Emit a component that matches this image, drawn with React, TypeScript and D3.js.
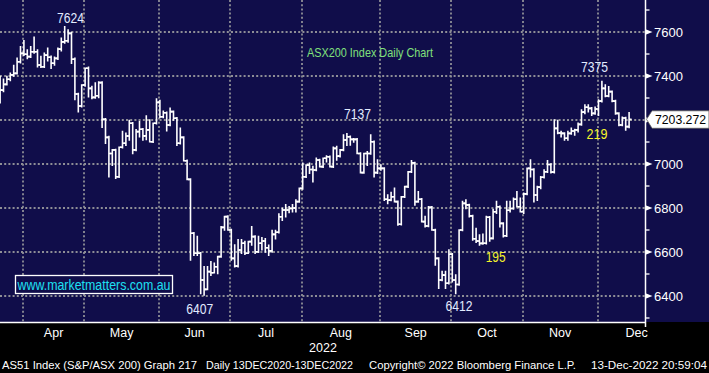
import React from 'react'
import * as d3 from 'd3'

// ASX200 daily OHLC, 22 Mar 2022 - 13 Dec 2022
const monthNames = ['Mar', 'Apr', 'May', 'Jun', 'Jul', 'Aug', 'Sep', 'Oct', 'Nov', 'Dec']
const monthDays = [8, 18, 22, 21, 21, 23, 21, 21, 22, 9]
const yTicks = [6400, 6600, 6800, 7000, 7200, 7400, 7600]
const yMinorTicks = [6300, 6500, 6700, 6900, 7100, 7300, 7500, 7700]

const opens = [
  7300, 7336, 7362, 7385, 7405, 7412, 7465, 7503,
  7499, 7488, 7510, 7510, 7450, 7442, 7495, 7485, 7458, 7480, 7522, 7555, 7560, 7594, 7476, 7318, 7264, 7359,
  7435, 7344, 7303, 7310, 7370, 7203, 7121, 7048, 7064, 6942, 7076, 7094, 7127, 7185, 7064, 7147, 7158, 7128, 7155, 7101, 7185, 7280,
  7215, 7233, 7177, 7238, 7208, 7094, 7121, 7015, 6930, 6685, 6594, 6594, 6473, 6430, 6511, 6506, 6533, 6579, 6712, 6761, 6700,
  6571, 6536, 6609, 6640, 6594, 6647, 6670, 6601, 6640, 6650, 6619, 6605, 6680, 6690, 6760, 6791, 6791, 6798, 6800, 6829, 6889,
  6942, 6995, 6975, 6973, 7018, 6988, 7026, 7033, 6988, 7071, 7036, 7064, 7109, 7124, 7112, 7112, 7048, 6961, 7048, 7048, 7101, 6961, 6980,
  6980, 6840, 6836, 6851, 6829, 6726, 6851, 6897, 6965, 7005, 6829, 6840, 6738, 6718, 6803, 6700, 6571, 6473, 6495, 6458, 6590,
  6473, 6452, 6700, 6821, 6814, 6764, 6660, 6650, 6639, 6640, 6758, 6662, 6783, 6806, 6730, 6674, 6790, 6798, 6840, 6806, 6783,
  6864, 6980, 6975, 6859, 6895, 6940, 6965, 6998, 6963, 7162, 7141, 7139, 7117, 7139, 7150, 7155, 7180, 7236, 7258, 7253, 7230, 7250,
  7286, 7344, 7309, 7329, 7286, 7230, 7177, 7209, 7170,
]
const highs = [
  7397, 7385, 7397, 7412, 7447, 7480, 7533, 7560,
  7518, 7533, 7576, 7518, 7488, 7503, 7526, 7490, 7485, 7526, 7571, 7624, 7609, 7598, 7480, 7320, 7359, 7435,
  7440, 7352, 7368, 7372, 7372, 7205, 7125, 7064, 7066, 7076, 7147, 7140, 7197, 7187, 7155, 7192, 7160, 7218, 7200, 7185, 7295, 7288,
  7240, 7235, 7253, 7240, 7210, 7162, 7123, 7017, 6932, 6687, 6670, 6596, 6533, 6533, 6556, 6549, 6579, 6715, 6761, 6763, 6702,
  6632, 6655, 6655, 6647, 6647, 6715, 6672, 6670, 6665, 6660, 6630, 6698, 6698, 6773, 6798, 6814, 6805, 6814, 6836, 6889, 7003,
  6995, 7003, 6988, 7026, 7020, 7026, 7036, 7035, 7076, 7079, 7064, 7132, 7137, 7126, 7115, 7114, 7050, 7048, 7056, 7132, 7103, 7018, 6995,
  6982, 6859, 6870, 6889, 6831, 6851, 6897, 6965, 7014, 7007, 6874, 6842, 6761, 6806, 6806, 6702, 6573, 6511, 6511, 6609, 6592,
  6495, 6700, 6829, 6836, 6816, 6766, 6707, 6677, 6680, 6761, 6760, 6793, 6829, 6808, 6732, 6829, 6829, 6844, 6874, 6844, 6867,
  6980, 7018, 6977, 6897, 6942, 6973, 7014, 7000, 7200, 7198, 7147, 7141, 7147, 7162, 7157, 7185, 7245, 7268, 7268, 7255, 7258, 7291,
  7375, 7359, 7351, 7331, 7288, 7232, 7212, 7211, 7233,
]
const lows = [
  7279, 7330, 7360, 7380, 7400, 7410, 7460, 7495,
  7480, 7485, 7505, 7442, 7440, 7440, 7470, 7435, 7450, 7476, 7515, 7550, 7555, 7458, 7294, 7238, 7260, 7355,
  7306, 7298, 7300, 7303, 7167, 7094, 6942, 6995, 6935, 6940, 7074, 7086, 7109, 7048, 7062, 7124, 7109, 7112, 7101, 7099, 7183, 7212,
  7212, 7151, 7175, 7200, 7086, 7092, 7015, 6930, 6564, 6586, 6586, 6412, 6405, 6430, 6495, 6506, 6503, 6577, 6700, 6700, 6564,
  6533, 6533, 6594, 6590, 6594, 6632, 6594, 6599, 6610, 6600, 6585, 6600, 6660, 6688, 6745, 6761, 6780, 6783, 6783, 6827, 6887,
  6940, 6958, 6920, 6971, 6988, 6986, 7010, 6988, 6986, 7018, 7033, 7062, 7085, 7087, 7100, 7048, 6961, 6959, 6995, 7046, 6942, 6958, 6973,
  6836, 6821, 6834, 6829, 6723, 6724, 6849, 6895, 6963, 6814, 6827, 6738, 6715, 6716, 6700, 6541, 6435, 6471, 6435, 6456, 6465,
  6412, 6450, 6698, 6798, 6761, 6655, 6645, 6632, 6637, 6638, 6650, 6660, 6776, 6715, 6670, 6672, 6783, 6796, 6806, 6783, 6776,
  6862, 6942, 6829, 6836, 6889, 6938, 6963, 6961, 6961, 7139, 7124, 7109, 7109, 7137, 7132, 7147, 7178, 7230, 7238, 7222, 7228, 7222,
  7283, 7307, 7307, 7284, 7228, 7175, 7175, 7155, 7166,
]
const closes = [
  7336, 7362, 7385, 7405, 7412, 7465, 7503, 7499,
  7488, 7510, 7510, 7450, 7442, 7495, 7485, 7458, 7480, 7522, 7555, 7560, 7594, 7476, 7318, 7264, 7359, 7435,
  7344, 7303, 7310, 7370, 7203, 7121, 7048, 7064, 6942, 7076, 7094, 7127, 7185, 7064, 7147, 7158, 7128, 7155, 7101, 7185, 7280, 7215,
  7233, 7177, 7238, 7208, 7094, 7121, 7015, 6930, 6685, 6594, 6594, 6473, 6430, 6511, 6506, 6533, 6579, 6712, 6761, 6700, 6571,
  6536, 6609, 6640, 6594, 6647, 6670, 6601, 6640, 6650, 6619, 6605, 6680, 6690, 6760, 6791, 6791, 6798, 6800, 6829, 6889, 6942,
  6995, 6975, 6973, 7018, 6988, 7026, 7033, 6988, 7071, 7036, 7064, 7109, 7124, 7112, 7112, 7048, 6961, 7048, 7048, 7101, 6961, 6980, 6980,
  6840, 6836, 6851, 6829, 6726, 6851, 6897, 6965, 7005, 6829, 6840, 6738, 6718, 6803, 6700, 6571, 6473, 6495, 6458, 6590, 6473,
  6452, 6700, 6821, 6814, 6764, 6660, 6650, 6639, 6640, 6758, 6662, 6783, 6806, 6730, 6674, 6790, 6798, 6840, 6806, 6783, 6864,
  6980, 6975, 6859, 6895, 6940, 6965, 6998, 6963, 7162, 7141, 7139, 7117, 7139, 7150, 7155, 7180, 7236, 7258, 7253, 7230, 7250, 7286,
  7344, 7309, 7329, 7286, 7230, 7177, 7209, 7170, 7203,
]

const lastValue = 7203.272
const lastPrice = '7203.272'

const BG = '#100d4a'
const GRID = '#8e8e96'
const FONT = '"Liberation Sans", Arial, sans-serif'

export default function App() {
  const W = 709
  const H = 373
  const axisX = 645.5
  const plotB = 322

  const x = d3.scaleLinear().domain([0, closes.length - 1]).range([0.1, 629.1])
  const y = d3.scaleLinear().domain([6281.8, 7745.5]).range([plotB, 0])
  const half = 1.7

  // first trading-day index of each month
  const starts = d3.cumsum([0, ...monthDays.slice(0, -1)])
  const gridXs = Array.from(starts).map(s => x(s) - 4.3)
  const monthCenters = gridXs.map((g, i) => (i < gridXs.length - 1 ? (g + gridXs[i + 1]) / 2 : g + 39))

  const tagY = y(lastValue)
  // the last-price tag hides any axis label it sits on
  const visibleTicks = yTicks.filter(t => Math.abs(y(t) - tagY) > 12)

  return (
    <svg width={W} height={H} style={{ display: 'block', position: 'absolute', left: 0, top: 0 }}>
      <rect x={0} y={0} width={W} height={H} fill="#000" />
      <rect x={0} y={0} width={W} height={plotB} fill={BG} />

      {/* grid */}
      <g stroke={GRID} strokeWidth={1.8} strokeDasharray="2 2.2">
        {yTicks.map(t => (
          <line key={t} x1={0} x2={axisX} y1={Math.round(y(t))} y2={Math.round(y(t))} />
        ))}
        {gridXs.slice(1).map((g, i) => (
          <line key={i} x1={Math.round(g)} x2={Math.round(g)} y1={0} y2={plotB} />
        ))}
      </g>

      {/* OHLC bars */}
      <g stroke="#fff" strokeWidth={1.6} fill="none" strokeLinecap="square">
        {closes.map((c, i) => {
          const cx = x(i)
          return (
            <path
              key={i}
              d={`M${cx},${y(highs[i])}V${y(lows[i])}M${cx - half},${y(opens[i])}H${cx}M${cx},${y(c)}H${cx + half}`}
            />
          )
        })}
      </g>

      {/* axes */}
      <line x1={0} x2={axisX} y1={plotB + 0.5} y2={plotB + 0.5} stroke="#fff" strokeWidth={1.5} />
      <line x1={axisX} x2={axisX} y1={0} y2={plotB + 5} stroke="#fff" strokeWidth={1.5} />
      {yMinorTicks.map(t => (
        <line key={t} x1={axisX} x2={axisX + 4} y1={y(t)} y2={y(t)} stroke="#fff" strokeWidth={1.3} />
      ))}
      {yTicks.map(t => (
        <polygon key={t} points={`${axisX},${y(t) - 2.8} ${axisX + 7},${y(t)} ${axisX},${y(t) + 2.8}`} fill="#fff" />
      ))}
      {visibleTicks.map(t => (
        <text key={t} x={654} y={y(t) + 4.6} fill="#fff" fontSize={13} fontFamily={FONT}>{t}</text>
      ))}

      {/* last price tag */}
      <path d={`M${axisX + 1},${tagY} L652,${tagY - 8.5} H709 V${tagY + 9} H652 Z`} fill="#fff" stroke="#555" strokeWidth={0.8} />
      <text x={655} y={tagY + 4.7} fill="#000" fontSize={12.5} fontFamily={FONT} textLength={51} lengthAdjust="spacingAndGlyphs">{lastPrice}</text>

      {/* annotations */}
      <g fontFamily={FONT} fontSize={14} textAnchor="middle">
        <text x={70.5} y={22.5} fill="#e2ebff" textLength={27} lengthAdjust="spacingAndGlyphs">7624</text>
        <text x={357.5} y={118.5} fill="#e2ebff" textLength={27} lengthAdjust="spacingAndGlyphs">7137</text>
        <text x={199.7} y={314} fill="#e2ebff" textLength={27} lengthAdjust="spacingAndGlyphs">6407</text>
        <text x={459} y={310.5} fill="#e2ebff" textLength={27} lengthAdjust="spacingAndGlyphs">6412</text>
        <text x={594.5} y={72} fill="#e2ebff" textLength={27} lengthAdjust="spacingAndGlyphs">7375</text>
        <text x={597} y={139.3} fill="#f4f42a" textLength={21} lengthAdjust="spacingAndGlyphs">219</text>
        <text x={495.7} y={262} fill="#f4f42a" textLength={20} lengthAdjust="spacingAndGlyphs">195</text>
      </g>
      <text x={307} y={57} fill="#80e07c" fontSize={13.5} fontFamily={FONT} textLength={126} lengthAdjust="spacingAndGlyphs">
        ASX200 Index Daily Chart
      </text>

      {/* watermark */}
      <rect x={15.5} y={275.5} width={157} height={18} fill={BG} stroke="#fff" strokeWidth={1.3} />
      <text x={17.5} y={290} fill="#1ee0f2" fontSize={14} fontFamily={FONT} textLength={153} lengthAdjust="spacingAndGlyphs">
        www.marketmatters.com.au
      </text>

      {/* month labels */}
      <g fill="#fff" fontFamily={FONT} fontSize={12.5} textAnchor="middle">
        {monthNames.slice(1).map((m, i) => (
          <text key={m} x={monthCenters[i + 1]} y={337}>{m}</text>
        ))}
        <text x={323} y={352}>2022</text>
      </g>

      {/* footer */}
      <g fill="#fff" fontFamily={FONT} fontSize={11.5}>
        <text x={2} y={369} textLength={195} lengthAdjust="spacingAndGlyphs">AS51 Index (S&amp;P/ASX 200) Graph 217</text>
        <text x={206} y={369} textLength={147} lengthAdjust="spacingAndGlyphs">Daily 13DEC2020-13DEC2022</text>
        <text x={369} y={369} textLength={207} lengthAdjust="spacingAndGlyphs">Copyright© 2022 Bloomberg Finance L.P.</text>
        <text x={591} y={369} textLength={116} lengthAdjust="spacingAndGlyphs">13-Dec-2022 20:59:04</text>
      </g>
    </svg>
  )
}
